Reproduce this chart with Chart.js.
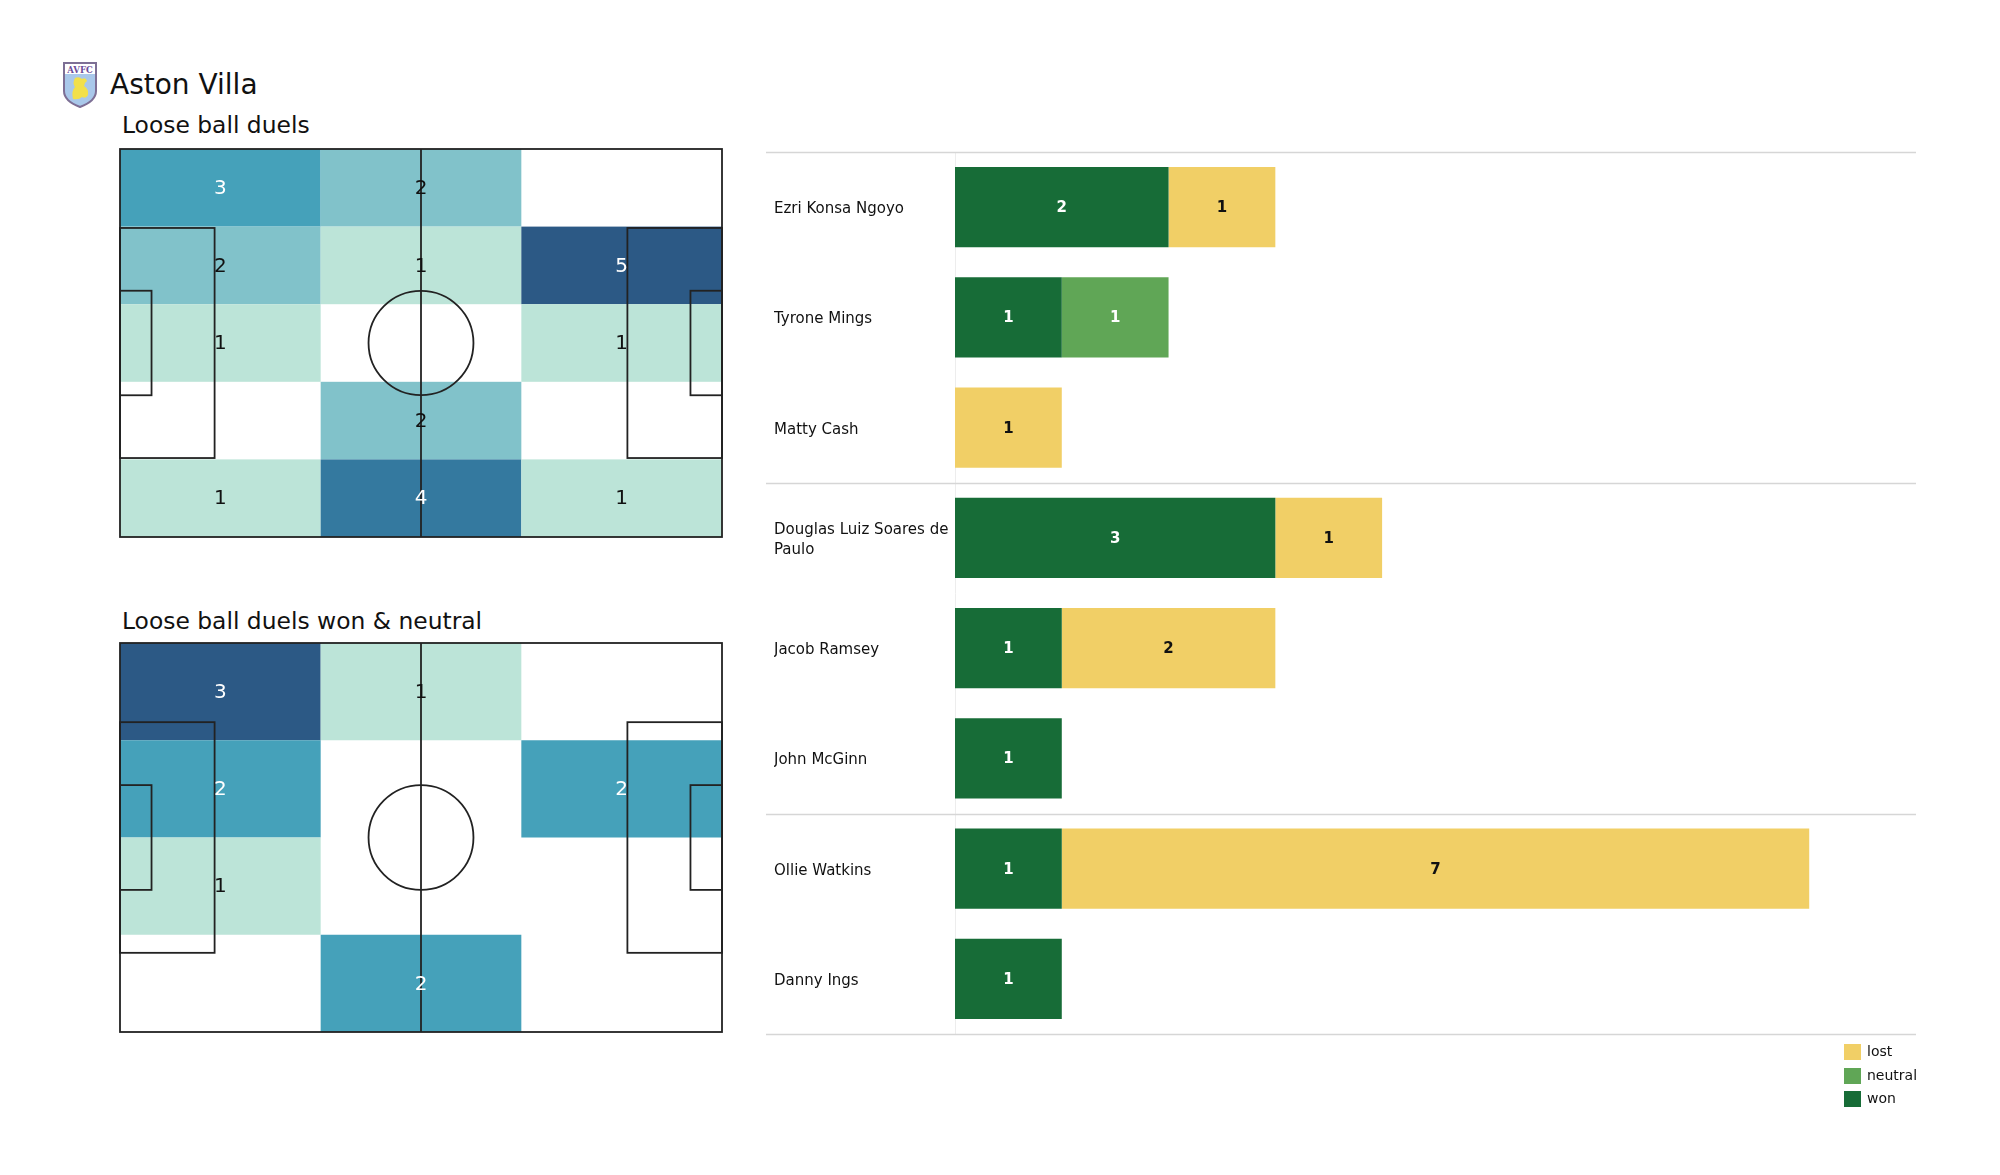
<!DOCTYPE html>
<html>
<head>
<meta charset="utf-8">
<script src="https://cdn.jsdelivr.net/npm/chart.js@4.4.0/dist/chart.umd.min.js"></script>
<style>
  body { margin: 0; width: 2000px; height: 1175px; background: #fff; position: relative; overflow: hidden; font-family: "DejaVu Sans", sans-serif; color: #111; }
  .txt { position: absolute; line-height: 1; white-space: nowrap; }
  canvas { position: absolute; }
  .sw { position: absolute; width: 17px; height: 16px; }
  .lg { position: absolute; font-size: 14px; line-height: 16px; }
</style>
</head>
<body>

<!-- club crest -->
<svg style="position:absolute;left:62px;top:61px" width="36" height="47" viewBox="0 0 36 47">
  <path d="M2 2 H34 V30 Q34 40 18 46 Q2 40 2 30 Z" fill="#a9c8ea" stroke="#7d6f95" stroke-width="2"/>
  <path d="M3 3 H33 V13 H3 Z" fill="#ffffff"/>
  <text x="18" y="11.5" text-anchor="middle" font-family="DejaVu Serif" font-size="8.5" font-weight="bold" fill="#6b4c9a">AVFC</text>
  <path d="M11 38 Q9 30 13 26 Q10 22 13 17 Q17 15 20 18 Q24 16 25 20 Q22 22 22 25 Q27 28 26 34 Q24 38 20 36 Q17 39 11 38 Z" fill="#f2e04a"/>
</svg>

<div class="txt" style="left:110px;top:71px;font-size:28px;">Aston Villa</div>
<div class="txt" style="left:122px;top:114px;font-size:23.4px;">Loose ball duels</div>
<div class="txt" style="left:122px;top:610px;font-size:23.4px;">Loose ball duels won &amp; neutral</div>

<canvas id="pitchAll" width="622" height="408" style="left:110px;top:139px"></canvas>
<canvas id="pitchWon" width="622" height="409" style="left:110px;top:633px"></canvas>
<canvas id="bars" width="1170" height="910" style="left:766px;top:140px"></canvas>

<div class="sw" style="left:1844px;top:1044px;background:#f1cf66"></div>
<div class="lg" style="left:1867px;top:1043px">lost</div>
<div class="sw" style="left:1844px;top:1068px;background:#60a656"></div>
<div class="lg" style="left:1867px;top:1067px">neutral</div>
<div class="sw" style="left:1844px;top:1091px;background:#176c37"></div>
<div class="lg" style="left:1867px;top:1090px">won</div>

<script>
// --- data: pitch zones (rows top -> bottom, cols left -> right) ---
const allDuelsZones = [
  [3, 2, 0],
  [2, 1, 5],
  [1, 0, 1],
  [0, 2, 0],
  [1, 4, 1]
];
const wonNeutralZones = [
  [3, 1, 0],
  [2, 0, 2],
  [1, 0, 0],
  [0, 2, 0]
];

// --- data: players ---
const players = [
  'Ezri Konsa Ngoyo', 'Tyrone Mings', 'Matty Cash',
  ['Douglas Luiz Soares de', 'Paulo'], 'Jacob Ramsey', 'John McGinn',
  'Ollie Watkins', 'Danny Ings'
];
const wonVals     = [2, 1, 0, 3, 1, 1, 1, 1];
const neutralVals = [0, 1, 0, 0, 0, 0, 0, 0];
const lostVals    = [1, 0, 1, 1, 2, 0, 7, 0];
const groupBreaks = [-0.5, 2.5, 5.5, 7.5];

const heatColors = ['#ffffff', '#bce4d8', '#81c2ca', '#45a1ba', '#34799f', '#2c5985'];
const PITCH_L = 105, PITCH_W = 68;

// heatmap + pitch markings, drawn through the chart's x / y scales
function pitchPlugin(zones) {
  return {
    id: 'pitch',
    afterDraw(chart) {
      const { ctx, scales: { x, y } } = chart;
      const nRows = zones.length, nCols = zones[0].length;
      const max = Math.max(...zones.flat());

      // cells
      zones.forEach((row, r) => {
        row.forEach((v, c) => {
          const lvl = Math.floor(v / max * 5);
          if (lvl === 0) return;
          const x0 = x.getPixelForValue(c * PITCH_L / nCols);
          const x1 = x.getPixelForValue((c + 1) * PITCH_L / nCols);
          const y0 = y.getPixelForValue(r * PITCH_W / nRows);
          const y1 = y.getPixelForValue((r + 1) * PITCH_W / nRows);
          ctx.fillStyle = heatColors[lvl];
          ctx.fillRect(x0, y0, x1 - x0, y1 - y0);
        });
      });

      // lines
      ctx.save();
      ctx.strokeStyle = '#222';
      ctx.lineWidth = 1.8;
      const rect = (a, b, c, d) => {
        const px0 = x.getPixelForValue(a), px1 = x.getPixelForValue(c);
        const py0 = y.getPixelForValue(b), py1 = y.getPixelForValue(d);
        ctx.strokeRect(px0, py0, px1 - px0, py1 - py0);
      };
      rect(0, 0, PITCH_L, PITCH_W);
      const boxW = 40.32, sixW = 18.32;
      rect(0, (PITCH_W - boxW) / 2, 16.5, (PITCH_W + boxW) / 2);
      rect(PITCH_L - 16.5, (PITCH_W - boxW) / 2, PITCH_L, (PITCH_W + boxW) / 2);
      rect(0, (PITCH_W - sixW) / 2, 5.5, (PITCH_W + sixW) / 2);
      rect(PITCH_L - 5.5, (PITCH_W - sixW) / 2, PITCH_L, (PITCH_W + sixW) / 2);
      ctx.beginPath();
      ctx.moveTo(x.getPixelForValue(PITCH_L / 2), y.getPixelForValue(0));
      ctx.lineTo(x.getPixelForValue(PITCH_L / 2), y.getPixelForValue(PITCH_W));
      ctx.stroke();
      const cx = x.getPixelForValue(PITCH_L / 2), cy = y.getPixelForValue(PITCH_W / 2);
      const rx = x.getPixelForValue(PITCH_L / 2 + 9.15) - cx;
      const ry = y.getPixelForValue(PITCH_W / 2 + 9.15) - cy;
      ctx.beginPath();
      ctx.ellipse(cx, cy, Math.abs(rx), Math.abs(ry), 0, 0, Math.PI * 2);
      ctx.stroke();

      // labels
      ctx.font = '20px "DejaVu Sans"';
      ctx.textAlign = 'center';
      ctx.textBaseline = 'middle';
      zones.forEach((row, r) => {
        row.forEach((v, c) => {
          if (!v) return;
          const lvl = Math.floor(v / max * 5);
          ctx.fillStyle = lvl >= 3 ? '#ffffff' : '#111111';
          ctx.fillText(String(v),
            x.getPixelForValue((c + 0.5) * PITCH_L / nCols),
            y.getPixelForValue((r + 0.5) * PITCH_W / nRows) + 1);
        });
      });
      ctx.restore();
    }
  };
}

function makePitch(id, zones) {
  new Chart(document.getElementById(id), {
    type: 'scatter',
    data: { datasets: [] },
    options: {
      responsive: false,
      animation: false,
      layout: { padding: 10 },
      plugins: { legend: { display: false }, tooltip: { enabled: false } },
      scales: {
        x: { type: 'linear', min: 0, max: PITCH_L, display: false },
        y: { type: 'linear', min: 0, max: PITCH_W, display: false, reverse: true }
      }
    },
    plugins: [pitchPlugin(zones)]
  });
}

makePitch('pitchAll', allDuelsZones);
makePitch('pitchWon', wonNeutralZones);

// bar chart: separators and value labels
const separatorPlugin = {
  id: 'separators',
  beforeDatasetsDraw(chart) {
    const { ctx, chartArea, scales: { y } } = chart;
    ctx.save();
    ctx.strokeStyle = '#d6d6d6';
    ctx.lineWidth = 1.5;
    groupBreaks.forEach(v => {
      const py = Math.round(y.getPixelForValue(v)) + 0.5;
      ctx.beginPath();
      ctx.moveTo(0, py);
      ctx.lineTo(chartArea.right, py);
      ctx.stroke();
    });
    ctx.restore();
  }
};

const valueLabelPlugin = {
  id: 'valueLabels',
  afterDatasetsDraw(chart) {
    const { ctx } = chart;
    ctx.save();
    ctx.font = 'bold 15px "DejaVu Sans"';
    ctx.textAlign = 'center';
    ctx.textBaseline = 'middle';
    chart.data.datasets.forEach((ds, i) => {
      const meta = chart.getDatasetMeta(i);
      meta.data.forEach((bar, j) => {
        const v = ds.data[j];
        if (!v) return;
        ctx.fillStyle = ds.labelColor;
        ctx.fillText(String(v), (bar.x + bar.base) / 2, bar.y + 1);
      });
    });
    ctx.restore();
  }
};

new Chart(document.getElementById('bars'), {
  type: 'bar',
  data: {
    labels: players,
    datasets: [
      { label: 'won', data: wonVals, backgroundColor: '#176c37', labelColor: '#ffffff' },
      { label: 'neutral', data: neutralVals, backgroundColor: '#60a656', labelColor: '#ffffff' },
      { label: 'lost', data: lostVals, backgroundColor: '#f1cf66', labelColor: '#111111' }
    ]
  },
  options: {
    indexAxis: 'y',
    responsive: false,
    animation: false,
    layout: { padding: { left: 8, right: 20, top: 12, bottom: 16 } },
    datasets: { bar: { barPercentage: 0.73, categoryPercentage: 1, borderWidth: 0 } },
    plugins: { legend: { display: false }, tooltip: { enabled: false } },
    scales: {
      x: { stacked: true, min: 0, max: 9, display: false },
      y: {
        stacked: true,
        grid: { display: false },
        border: { display: true, color: '#ededed', width: 1 },
        ticks: {
          crossAlign: 'far',
          padding: 0,
          labelOffset: 2,
          color: '#111',
          font: { family: 'DejaVu Sans', size: 15, lineHeight: 1.3 }
        },
        afterFit(scale) { scale.width = 181; }
      }
    }
  },
  plugins: [separatorPlugin, valueLabelPlugin]
});
</script>
</body>
</html>
